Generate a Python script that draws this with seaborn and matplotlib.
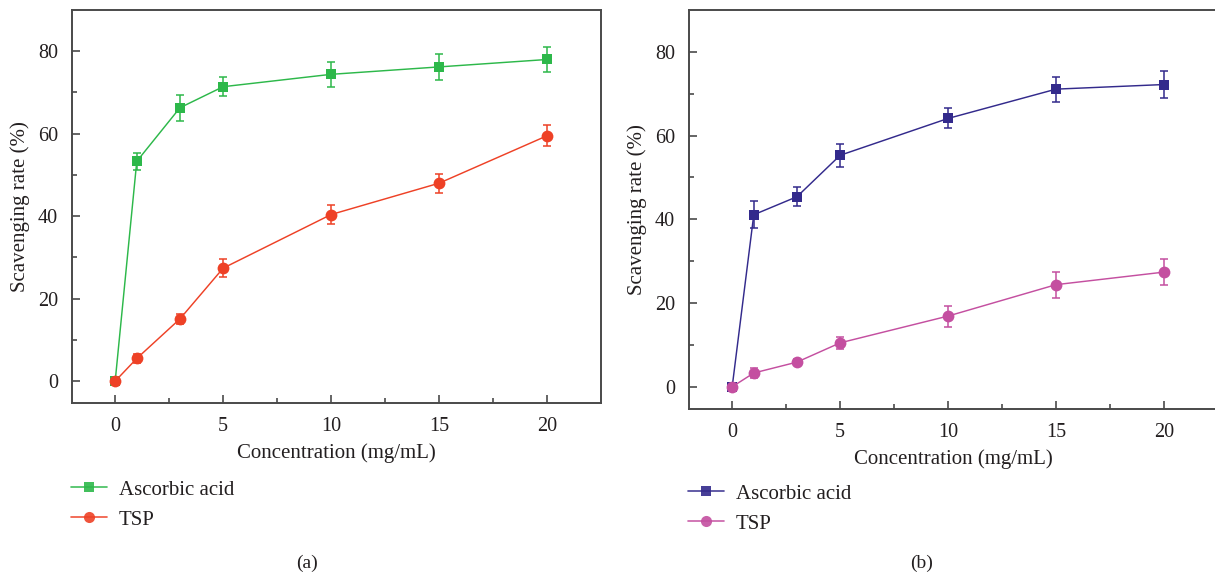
import numpy as np
import pandas as pd
import matplotlib
matplotlib.use("Agg")
import matplotlib.pyplot as plt
import seaborn as sns

# Concentrations (mg/mL)
conc = [0, 1, 3, 5, 10, 15, 20]

# Panel (a)
a_ascorbic = [0.0, 53.3, 66.3, 71.4, 74.4, 76.2, 78.0]
a_ascorbic_err = [0.0, 2.1, 3.1, 2.3, 3.0, 3.2, 3.1]
a_tsp = [0.0, 5.5, 15.1, 27.4, 40.4, 48.0, 59.5]
a_tsp_err = [0.0, 1.2, 1.2, 2.2, 2.2, 2.3, 2.5]

# Panel (b)
b_ascorbic = [0.0, 41.1, 45.4, 55.3, 64.1, 71.1, 72.2]
b_ascorbic_err = [0.0, 3.2, 2.3, 2.8, 2.4, 3.0, 3.2]
b_tsp = [0.0, 3.3, 5.9, 10.5, 16.9, 24.4, 27.4]
b_tsp_err = [0.0, 1.1, 0.8, 1.5, 2.5, 3.1, 3.1]

series_names = ["Ascorbic acid", "TSP"]
x_ticks = [0, 5, 10, 15, 20]
y_ticks = [0, 20, 40, 60, 80]
panel_tags = ["(a)", "(b)"]

sns.set_theme(style="ticks")
plt.rcParams["font.family"] = ["Liberation Serif", "DejaVu Serif"]
plt.rcParams["mathtext.fontset"] = "stix"

W, H = 1215, 577
fig = plt.figure(figsize=(W / 100, H / 100), dpi=100)

spine_col = "#4a4a4a"
text_col = "#231f20"


def px_axes(l, t, r, b):
    return fig.add_axes([l / W, 1 - b / H, (r - l) / W, (b - t) / H])


def draw_panel(ax, asc, asc_err, tsp, tsp_err, colors):
    df = pd.DataFrame({
        "Concentration": conc * 2,
        "Rate": asc + tsp,
        "Sample": [series_names[0]] * len(conc) + [series_names[1]] * len(conc),
    })
    sns.lineplot(data=df, x="Concentration", y="Rate", hue="Sample", style="Sample",
                 palette=colors, markers={series_names[0]: "s", series_names[1]: "o"},
                 dashes=False, linewidth=1.05, markeredgewidth=0,
                 ax=ax, legend=False, zorder=3)
    # marker sizes differ per series
    for line, ms in zip(ax.get_lines(), [7.0, 8.5]):
        line.set_markersize(ms)
    for vals, errs, c in [(asc, asc_err, colors[series_names[0]]),
                          (tsp, tsp_err, colors[series_names[1]])]:
        ax.errorbar(conc, vals, yerr=errs, fmt="none", ecolor=c, elinewidth=1.1,
                    capsize=3, capthick=1.1, zorder=2)
    ax.set_xlim(-2.0, 22.5)
    ax.set_ylim(-5.3, 90)
    ax.set_xticks(x_ticks)
    ax.set_yticks(y_ticks)
    ax.set_xticks([2.5, 7.5, 12.5, 17.5], minor=True)
    ax.set_yticks([10, 30, 50, 70], minor=True)
    ax.tick_params(which="both", direction="in", color=spine_col, width=1.2,
                   labelsize=14.5, labelcolor=text_col, top=False, right=False)
    ax.tick_params(which="major", length=6, pad=10)
    ax.tick_params(which="minor", length=3.5)
    for s in ax.spines.values():
        s.set_color(spine_col)
        s.set_linewidth(1.4)
    ax.set_xlabel("Concentration (mg/mL)", fontsize=15, color=text_col, labelpad=5)
    ax.set_ylabel("Scavenging rate (%)", fontsize=15, color=text_col, labelpad=6)


def draw_legend(colors, x, y):
    handles = [
        plt.Line2D([], [], color=colors[series_names[0]], marker="s", markersize=6.5,
                   markeredgewidth=0, linewidth=1.2, alpha=0.9),
        plt.Line2D([], [], color=colors[series_names[1]], marker="o", markersize=8,
                   markeredgewidth=0, linewidth=1.2, alpha=0.9),
    ]
    fig.legend(handles, series_names, loc="upper left", bbox_to_anchor=(x / W, 1 - y / H),
               frameon=False, fontsize=15, handlelength=1.75, handletextpad=0.55,
               labelspacing=0.5, borderaxespad=0, borderpad=0, labelcolor=text_col)


colors_a = {series_names[0]: "#2db84a", series_names[1]: "#ee4126"}
colors_b = {series_names[0]: "#332a8c", series_names[1]: "#c44fa0"}

ax_a = px_axes(72, 10, 601, 403)
draw_panel(ax_a, a_ascorbic, a_ascorbic_err, a_tsp, a_tsp_err, colors_a)
ax_b = px_axes(689, 10, 1218, 409)
draw_panel(ax_b, b_ascorbic, b_ascorbic_err, b_tsp, b_tsp_err, colors_b)

draw_legend(colors_a, 71, 480)
draw_legend(colors_b, 688, 484)

fig.text(307 / W, 1 - 563 / H, panel_tags[0], ha="center", va="center", fontsize=14, color=text_col)
fig.text(922 / W, 1 - 563 / H, panel_tags[1], ha="center", va="center", fontsize=14, color=text_col)

fig.savefig("out.png", dpi=100)
